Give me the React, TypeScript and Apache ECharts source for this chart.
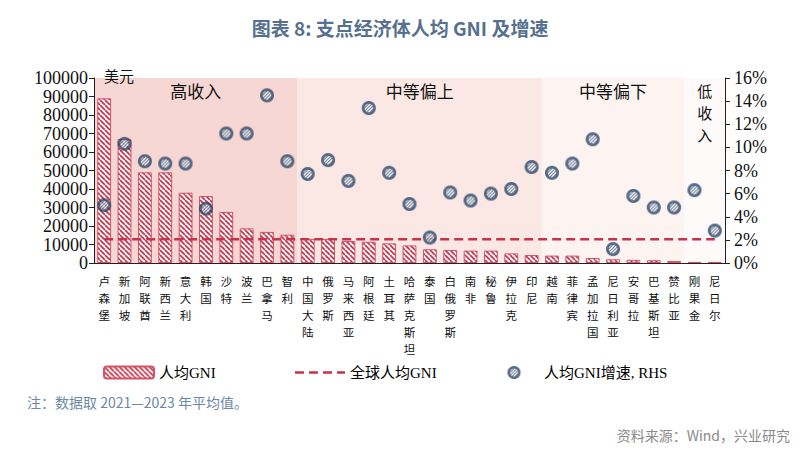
import React, { useEffect, useRef } from 'react';
import * as echarts from 'echarts';

const categories = ['卢森堡','新加坡','阿联酋','新西兰','意大利','韩国','沙特','波兰','巴拿马','智利','中国大陆','俄罗斯','马来西亚','阿根廷','土耳其','哈萨克斯坦','泰国','白俄罗斯','南非','秘鲁','伊拉克','印尼','越南','菲律宾','孟加拉国','尼日利亚','安哥拉','巴基斯坦','赞比亚','刚果金','尼日尔'];
const gniPerCapita = [89000,67000,49000,49000,38000,36200,27600,18700,16800,15300,13000,13000,11900,11500,10600,9500,7400,7000,6700,6700,5200,4300,4000,4000,2700,2000,1700,1500,1100,600,600];
const gniGrowth = [5.0,10.3,8.8,8.6,8.6,4.7,11.2,11.2,14.5,8.8,7.7,8.9,7.1,13.4,7.8,5.1,2.2,6.1,5.4,6.0,6.4,8.3,7.8,8.6,10.7,1.2,5.8,4.8,4.8,6.3,2.8];
const globalGNI = [12800,12800,12800,12800,12800,12800,12800,12800,12800,12800,12800,12800,12800,12800,12800,12800,12800,12800,12800,12800,12800,12800,12800,12800,12800,12800,12800,12800,12800,12800,12800];
const bandStart = [0, 10, 22, 29];
const bandEnd = [9, 21, 28, 30];
const bandLabels = ['高收入', '中等偏上', '中等偏下', '低\n收\n入'];
const bandColors = ['#f7d7d3', '#fbe8e4', '#fdf4f2', '#fffafa'];
const seriesNames = ['人均GNI', '全球人均GNI', '人均GNI增速, RHS'];

const RED = '#c8324a';
const NAVY = '#2b4669';
const SERIF = '"Liberation Serif", "Noto Sans CJK SC", serif';
const SANS = '"Noto Sans CJK SC", "Noto Sans", sans-serif';
const DASH_ICON = 'path://M0 0h9v2.5h-9z M14 0h9v2.5h-9z M28 0h9v2.5h-9z M42 0h8v2.5h-8z';

function makeHatch(): HTMLCanvasElement {
  const p = 5;
  const c = document.createElement('canvas');
  c.width = p; c.height = p;
  const ctx = c.getContext('2d')!;
  ctx.fillStyle = '#ffffff';
  ctx.fillRect(0, 0, p, p);
  ctx.strokeStyle = RED;
  ctx.lineWidth = 1.7;
  for (const k of [-1, 0, 1]) {
    ctx.beginPath();
    ctx.moveTo(k * p, 0);
    ctx.lineTo(k * p + p, p);
    ctx.stroke();
  }
  return c;
}

function makeMarker(): string {
  const s = 28;
  const c = document.createElement('canvas');
  c.width = s; c.height = s;
  const ctx = c.getContext('2d')!;
  ctx.fillStyle = NAVY;
  ctx.beginPath();
  ctx.arc(s / 2, s / 2, s / 2, 0, Math.PI * 2);
  ctx.fill();
  ctx.save();
  ctx.beginPath();
  ctx.arc(s / 2, s / 2, s * 0.31, 0, Math.PI * 2);
  ctx.clip();
  ctx.strokeStyle = '#ffffff';
  ctx.lineWidth = 2.8;
  for (let k = -6; k <= 6; k++) {
    ctx.beginPath();
    ctx.moveTo(k * 6.5 + 1, s);
    ctx.lineTo(k * 6.5 + 1 + s, 0);
    ctx.stroke();
  }
  ctx.restore();
  return 'image://' + c.toDataURL();
}

export default function App() {
  const ref = useRef<HTMLDivElement>(null);
  useEffect(() => {
    if (!ref.current) return;
    const chart = echarts.init(ref.current, null, { renderer: 'svg' });
    const hatch = makeHatch();
    const marker = makeMarker();
    const legendText = { fontFamily: SERIF, fontSize: 15, color: '#000' };
    const option: any = {
      animation: false,
      backgroundColor: '#ffffff',
      title: {
        text: '图表 8: 支点经济体人均 GNI 及增速',
        left: 'center',
        top: 13,
        textStyle: { fontFamily: SANS, fontSize: 19, fontWeight: 'bold', color: '#56708f' },
      },
      grid: { left: 94, right: 75, top: 78, bottom: 192 },
      legend: [
        { data: [seriesNames[0]], left: 98, top: 360, itemWidth: 50, itemHeight: 12, textStyle: legendText },
        { data: [{ name: seriesNames[1], icon: DASH_ICON }], left: 290, top: 360, itemWidth: 50, itemHeight: 12, textStyle: legendText },
        { data: [seriesNames[2]], left: 484, top: 360, itemWidth: 50, itemHeight: 13, textStyle: legendText },
      ],
      xAxis: {
        type: 'category',
        data: categories,
        axisLine: { lineStyle: { color: '#222', width: 1 } },
        axisTick: { length: 5, lineStyle: { color: '#222' } },
        axisLabel: {
          interval: 0,
          margin: 9,
          fontFamily: SANS,
          fontSize: 11.5,
          lineHeight: 17,
          color: '#111',
          formatter: (v: string) => v.split('').join('\n'),
        },
      },
      yAxis: [
        {
          type: 'value',
          min: 0,
          max: 100000,
          interval: 10000,
          name: '美元',
          nameLocation: 'end',
          nameGap: 3,
          nameTextStyle: { fontFamily: SANS, fontSize: 15, color: '#111', align: 'left', verticalAlign: 'middle', padding: [0, 0, 0, 10] },
          axisLine: { show: true, lineStyle: { color: '#222' } },
          axisTick: { show: true, length: 5, lineStyle: { color: '#222' } },
          axisLabel: { fontFamily: SERIF, fontSize: 18, color: '#111', margin: 6, formatter: (v: number) => String(v) },
          splitLine: { show: false },
        },
        {
          type: 'value',
          min: 0,
          max: 16,
          interval: 2,
          position: 'right',
          axisLine: { show: true, lineStyle: { color: '#222' } },
          axisTick: { show: true, length: 5, lineStyle: { color: '#222' } },
          axisLabel: { fontFamily: SERIF, fontSize: 18, color: '#111', margin: 9, formatter: '{value}%' },
          splitLine: { show: false },
        },
      ],
      series: [
        {
          type: 'custom',
          name: 'bands',
          z: 0,
          silent: true,
          clip: false,
          data: bandStart.map((s, i) => [s, bandEnd[i]]),
          encode: { x: 0 },
          renderItem: (params: any, api: any) => {
            const i = params.dataIndex;
            const bw = api.size([1, 0])[0];
            const x0 = api.coord([bandStart[i], 0])[0] - bw / 2;
            const x1 = api.coord([bandEnd[i], 0])[0] + bw / 2;
            const cs = params.coordSys;
            const vertical = bandLabels[i].indexOf('\n') >= 0;
            return {
              type: 'group',
              children: [
                { type: 'rect', shape: { x: x0, y: cs.y, width: x1 - x0, height: cs.height }, style: { fill: bandColors[i] } },
                {
                  type: 'text',
                  x: (x0 + x1) / 2,
                  y: cs.y + 1,
                  style: {
                    text: bandLabels[i],
                    fontFamily: SANS,
                    fontSize: vertical ? 15 : 17,
                    lineHeight: 22,
                    fill: '#111',
                    align: 'center',
                    verticalAlign: 'top',
                  },
                },
              ],
            };
          },
        },
        {
          type: 'bar',
          name: seriesNames[0],
          data: gniPerCapita,
          barWidth: '68%',
          z: 2,
          itemStyle: { color: { image: hatch, repeat: 'repeat' }, borderColor: '#d05468', borderWidth: 1 },
        },
        {
          type: 'line',
          name: seriesNames[1],
          data: globalGNI,
          symbol: 'none',
          z: 3,
          lineStyle: { color: RED, width: 2.5, type: [9, 5] },
          itemStyle: { color: RED },
        },
        {
          type: 'scatter',
          name: seriesNames[2],
          data: gniGrowth,
          yAxisIndex: 1,
          symbol: marker,
          symbolSize: 14,
          symbolKeepAspect: true,
          z: 4,
          itemStyle: { color: NAVY },
        },
      ],
      graphic: [
        {
          type: 'text',
          left: 27,
          top: 395,
          style: { text: '注：数据取 2021—2023 年平均值。', fontFamily: SANS, fontSize: 14, fill: '#6d88a6' },
        },
        {
          type: 'text',
          right: 10,
          top: 428,
          style: { text: '资料来源：Wind，兴业研究', fontFamily: SANS, fontSize: 14, fill: '#8a8a8a' },
        },
      ],
    };
    chart.setOption(option);
    return () => chart.dispose();
  }, []);
  return <div ref={ref} style={{ position: 'fixed', left: 0, top: 0, width: 800, height: 455 }} />;
}
